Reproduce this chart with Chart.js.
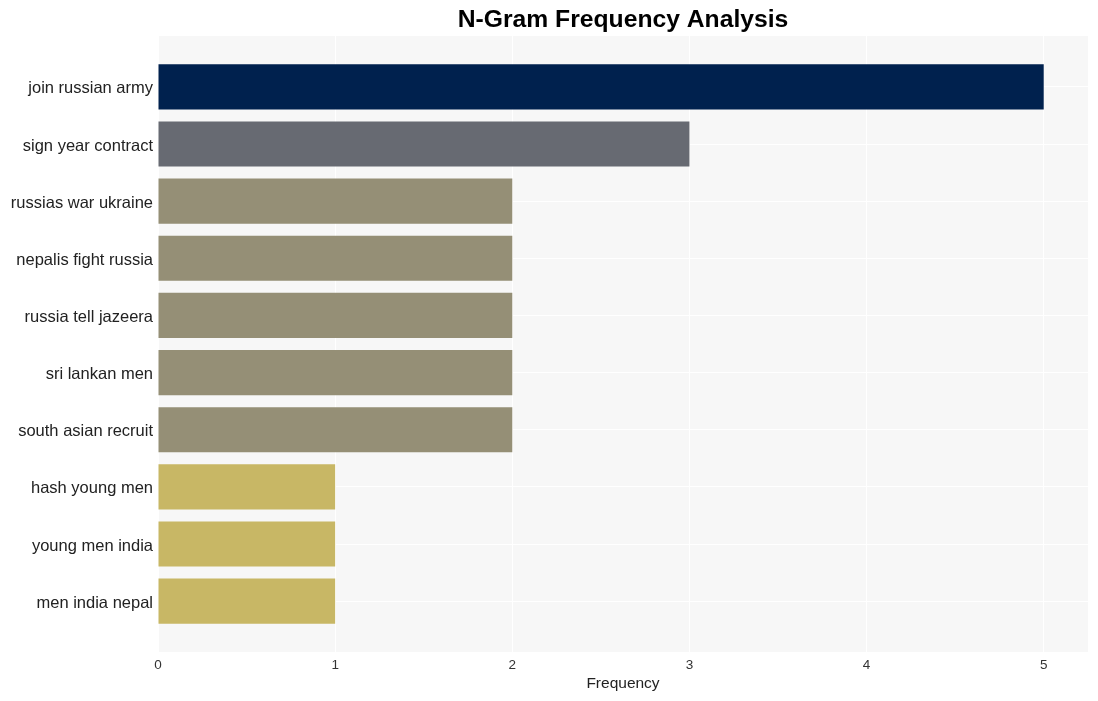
<!DOCTYPE html>
<html>
<head>
<meta charset="utf-8">
<script src="https://cdn.jsdelivr.net/npm/chart.js@4"></script>
<style>
  html, body { margin: 0; padding: 0; background: #ffffff; }
  #wrap { width: 1098px; height: 701px; position: relative; }
</style>
</head>
<body>
<div id="wrap"><canvas id="c"></canvas></div>
<script>
const titleText = "N-Gram Frequency Analysis";
const axisTitle = "Frequency";
const categories = [
  "join russian army",
  "sign year contract",
  "russias war ukraine",
  "nepalis fight russia",
  "russia tell jazeera",
  "sri lankan men",
  "south asian recruit",
  "hash young men",
  "young men india",
  "men india nepal"
];
const frequencies = [5, 3, 2, 2, 2, 2, 2, 1, 1, 1];
const barColors = [
  "#00214e", "#676a72", "#958f76", "#958f76", "#958f76",
  "#958f76", "#958f76", "#c8b765", "#c8b765", "#c8b765"
];
const xTicks = [0, 1, 2, 3, 4, 5];

const points = categories.map((c, i) => ({ x: frequencies[i], y: i }));

const bgPlugin = {
  id: 'bg',
  beforeDraw(chart) {
    const { ctx, chartArea: a } = chart;
    ctx.save();
    ctx.fillStyle = '#f7f7f7';
    ctx.fillRect(a.left, a.top, a.right - a.left, a.bottom - a.top);
    ctx.restore();
  },
  afterDraw(chart) {
    const { ctx, chartArea: a } = chart;
    ctx.save();
    ctx.fillStyle = '#000000';
    ctx.font = 'bold 24.7px "Liberation Sans", Arial, sans-serif';
    ctx.textAlign = 'center';
    ctx.textBaseline = 'middle';
    ctx.fillText(titleText, (a.left + a.right) / 2, 20.5);
    ctx.restore();
  }
};

new Chart(document.getElementById('c'), {
  type: 'bar',
  data: {
    datasets: [{
      data: points,
      backgroundColor: barColors,
      borderWidth: 0,
      categoryPercentage: 1,
      barPercentage: 0.79
    }]
  },
  options: {
    indexAxis: 'y',
    responsive: true,
    maintainAspectRatio: false,
    animation: false,
    layout: { padding: { top: 36, right: 10, left: 0, bottom: 0 } },
    plugins: { legend: { display: false }, title: { display: false }, tooltip: { enabled: false } },
    scales: {
      x: {
        type: 'linear',
        min: 0,
        max: 5.25,
        offset: false,
        afterBuildTicks(scale) { scale.ticks = xTicks.map(v => ({ value: v })); },
        grid: { color: '#ffffff', lineWidth: 1, drawTicks: false, offset: false },
        border: { display: false },
        ticks: {
          padding: 5,
          color: '#333333',
          font: { family: '"Liberation Sans", Arial, sans-serif', size: 13.5 },
          callback: v => String(v)
        },
        title: {
          display: true,
          text: axisTitle,
          color: '#222222',
          padding: { top: 0, bottom: 8 },
          font: { family: '"Liberation Sans", Arial, sans-serif', size: 15.5 }
        },
        afterFit(scale) { scale.height = 49; }
      },
      y: {
        type: 'linear',
        reverse: true,
        offset: false,
        min: -0.89,
        max: categories.length - 1 + 0.89,
        afterBuildTicks(scale) { scale.ticks = categories.map((_, i) => ({ value: i })); },
        grid: { color: '#ffffff', lineWidth: 1, drawTicks: false, offset: false },
        border: { display: false },
        ticks: {
          padding: 5,
          labelOffset: 2,
          color: '#222222',
          font: { family: '"Liberation Sans", Arial, sans-serif', size: 16.5 },
          callback: v => categories[v] !== undefined ? categories[v] : ''
        },
        afterFit(scale) { scale.width = 158; }
      }
    }
  },
  plugins: [bgPlugin]
});
</script>
</body>
</html>
